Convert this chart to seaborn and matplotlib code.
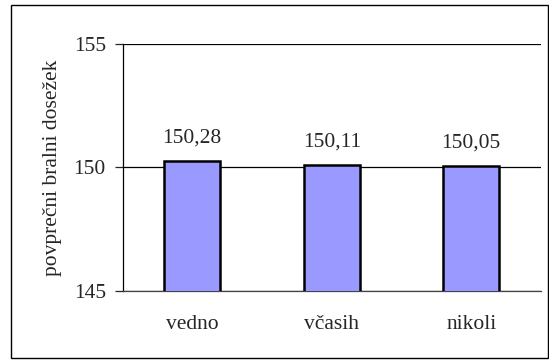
import seaborn as sns
import matplotlib.pyplot as plt
import matplotlib.patches as patches
import pandas as pd

# data
categories = ["vedno", "včasih", "nikoli"]
values = [150.28, 150.11, 150.05]
labels = ["150,28", "150,11", "150,05"]

df = pd.DataFrame({"kategorija": categories, "dosezek": values})

sns.set_style("white")
plt.rcParams["font.family"] = ["Liberation Serif", "DejaVu Serif"]
fs = 15.5

fig = plt.figure(figsize=(5.49, 3.6), dpi=100)
ax = fig.add_axes([122.5 / 549, 1 - 291 / 360, (541 - 122.5) / 549, (291 - 44) / 360])

sns.barplot(x="kategorija", y="dosezek", data=df, color="#9999ff",
            saturation=1, width=0.4, edgecolor="black", linewidth=1.8,
            ax=ax, zorder=3)

ax.set_ylim(145, 155)
ax.set_xlim(-0.5, 2.5)
ax.set_yticks([145, 150, 155])
ax.yaxis.grid(True, color="black", linewidth=0.9, zorder=0)
ax.set_axisbelow(True)

# ticks between the categories
ax.set_xticks([-0.5, 0.5, 1.5, 2.5], minor=True)
ax.tick_params(axis="x", which="major", length=0, pad=17, labelsize=fs)
ax.tick_params(axis="x", which="minor", length=6, width=0.9, color="#444444")
ax.tick_params(axis="y", length=6, width=0.9, labelsize=fs, pad=6, left=True)

for side in ["top", "right"]:
    ax.spines[side].set_visible(False)
ax.spines["left"].set_color("black")
ax.spines["left"].set_linewidth(0.9)
ax.spines["bottom"].set_color("#444444")
ax.spines["bottom"].set_linewidth(0.9)

for i, (v, t) in enumerate(zip(values, labels)):
    ax.text(i, v + 0.75, t, ha="center", va="baseline", fontsize=fs)

ax.set_xlabel("")
ax.set_ylabel("povprečni bralni dosežek", fontsize=fs, labelpad=8)

# outer frame of the chart
fig.patches.append(patches.Rectangle((11 / 549, 2 / 360), 537 / 549, 353 / 360,
                                     transform=fig.transFigure, fill=False,
                                     edgecolor="black", linewidth=1))

plt.savefig("out.png", dpi=100)
